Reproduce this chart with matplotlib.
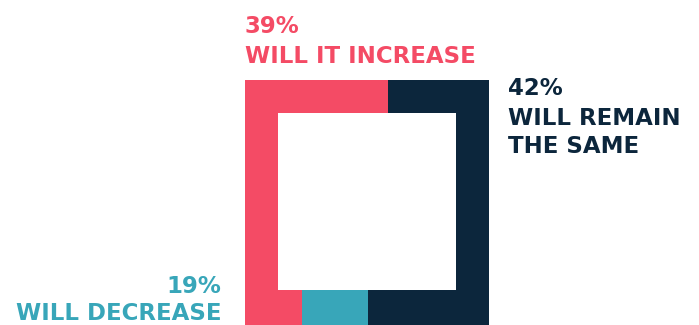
import matplotlib
matplotlib.use("Agg")
import matplotlib.pyplot as plt

# Data
categories = ["WILL IT INCREASE", "WILL REMAIN\nTHE SAME", "WILL DECREASE"]
values = [39, 42, 19]
colors = ["#F44B65", "#0C263C", "#38A6B9"]

# Layout (pixel space)
W, H = 699, 325
L, R, T, B = 245, 489, 80, 325      # outer square
th = 33                               # frame thickness (left/top/right)
bth = 35                              # bottom thickness
# split positions on the frame (visual design, not proportional)
top_split = 388      # increase | same on top edge
bot_split1 = 302     # increase | decrease on bottom edge
bot_split2 = 368     # decrease | same on bottom edge

fig = plt.figure(figsize=(W / 100, H / 100), dpi=100)
ax = fig.add_axes([0, 0, 1, 1])
ax.set_xlim(0, W)
ax.set_ylim(H, 0)
ax.axis("off")

def rect(x0, x1, y0, y1, c):
    ax.fill([x0, x1, x1, x0], [y0, y0, y1, y1], color=c, lw=0)

# increase (pink): left side, part of top, part of bottom
rect(L, L + th, T, B, colors[0])
rect(L, top_split, T, T + th, colors[0])
rect(L, bot_split1, B - bth, B, colors[0])
# same (navy): rest of top, right side, part of bottom
rect(top_split, R, T, T + th, colors[1])
rect(R - th, R, T, B, colors[1])
rect(bot_split2, R, B - bth, B, colors[1])
# decrease (teal)
rect(bot_split1, bot_split2, B - bth, B, colors[2])

fs = 16.5
fam = "DejaVu Sans"
kw = dict(fontsize=fs, fontweight="bold", family=fam, va="baseline")

# Increase label
ax.text(L, 33, f"{values[0]}%", color=colors[0], ha="left", **kw)
ax.text(L, 63, categories[0], color=colors[0], ha="left", **kw)
# Same label
ax.text(508, 95, f"{values[1]}%", color=colors[1], ha="left", **kw)
l1, l2 = categories[1].split("\n")
ax.text(508, 125, l1, color=colors[1], ha="left", **kw)
ax.text(508, 153, l2, color=colors[1], ha="left", **kw)
# Decrease label
ax.text(221, 293, f"{values[2]}%", color=colors[2], ha="right", **kw)
ax.text(221, 320, categories[2], color=colors[2], ha="right", **kw)

fig.savefig("out.png", dpi=100)
